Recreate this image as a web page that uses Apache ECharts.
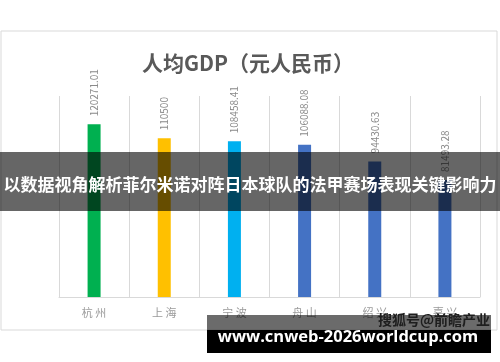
<!DOCTYPE html>
<html>
<head>
<meta charset="utf-8">
<script src="https://cdn.jsdelivr.net/npm/echarts@6/dist/echarts.min.js"></script>
<style>html,body{margin:0;padding:0;background:#fff}#c{width:500px;height:362px}</style>
</head>
<body>
<div id="c"></div>
<script>
const categories = ['杭州', '上海', '宁波', '舟山', '绍兴', '嘉兴'];
const values = [120271.01, 110500, 108458.41, 106088.08, 94430.63, 81493.28];
const barColors = ['#00b050', '#ffc000', '#00b0f0', '#4472c4', '#4472c4', '#4472c4'];
const titleText = '人均GDP（元人民币）';
const bannerText = '以数据视角解析菲尔米诺对阵日本球队的法甲赛场表现关键影响力';
const siteText = 'www.cnweb-2026worldcup.com';
const watermarkText = '搜狐号@前瞻产业';

const chart = echarts.init(document.getElementById('c'), null, {renderer: 'canvas'});
chart.setOption({
  animation: false,
  backgroundColor: '#fff',
  textStyle: {fontFamily: '"Noto Sans CJK SC", "Open Sans", sans-serif'},
  title: {
    text: titleText,
    left: 137, top: 48,
    textStyle: {fontSize: 21, fontWeight: 'bold', color: '#595959', fontFamily: '"Noto Sans CJK SC", "Open Sans", sans-serif'}
  },
  grid: {left: 59, right: 20, top: 96, bottom: 65},
  xAxis: {
    type: 'category',
    data: categories,
    axisLine: {lineStyle: {color: '#d9d9d9'}},
    axisTick: {show: false},
    splitLine: {show: true, lineStyle: {color: '#d9d9d9'}},
    axisLabel: {color: '#9a9a9a', fontSize: 11, margin: 10, formatter: v => v.split('').join(' ')}
  },
  yAxis: {type: 'value', min: 0, max: 140000, show: false, splitLine: {show: false}},
  series: [{
    type: 'bar',
    barWidth: 13,
    data: values.map((v, i) => ({value: v, itemStyle: {color: barColors[i]}})),
    label: {
      show: true, position: 'top', rotate: 90, align: 'left', verticalAlign: 'middle',
      distance: 8, color: '#8a8a8a', fontSize: 10,
      formatter: p => String(p.value)
    }
  }],
  graphic: [
    {type: 'rect', z: 0, silent: true, shape: {x: 1, y: 31, width: 496, height: 299}, style: {fill: 'none', stroke: '#d9d9d9', lineWidth: 1}},
    {type: 'rect', z: 100, shape: {x: 0, y: 152, width: 500, height: 59}, style: {fill: 'rgba(0,0,0,0.6)'}},
    {type: 'text', z: 101, x: 250, y: 185, style: {text: bannerText, fill: '#fff', font: 'bold 17px "Noto Sans CJK SC", sans-serif', align: 'center', verticalAlign: 'middle'}},
    {type: 'rect', z: 100, shape: {x: 207, y: 315, width: 284, height: 15}, style: {fill: 'rgba(0,0,0,0.58)'}},
    {type: 'rect', z: 100, shape: {x: 207, y: 330, width: 284, height: 23}, style: {fill: '#000'}},
    {type: 'text', z: 101, x: 434, y: 320, style: {text: watermarkText, fill: '#1e1e1e', font: 'bold 14px "Noto Sans CJK SC", sans-serif', align: 'center', verticalAlign: 'middle'}},
    {type: 'text', z: 101, x: 348, y: 337, style: {text: siteText, fill: '#fff', font: 'bold 16.5px "Open Sans", "DejaVu Sans", sans-serif', align: 'center', verticalAlign: 'middle'}}
  ]
});
</script>
</body>
</html>
